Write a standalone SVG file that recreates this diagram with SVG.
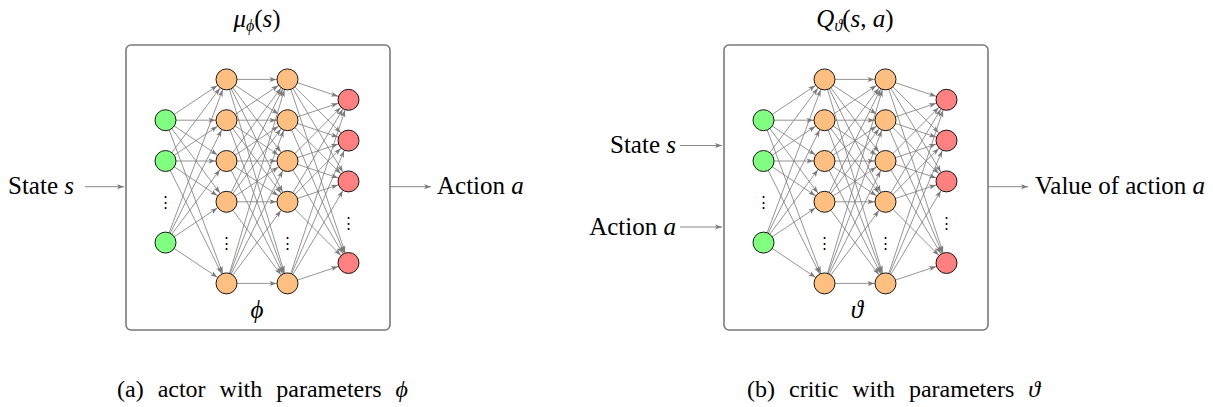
<svg xmlns="http://www.w3.org/2000/svg" width="1213" height="407" viewBox="0 0 1213 407">
<style>
.e{stroke:#7a7a7a;stroke-width:0.8;fill:none;marker-end:url(#ah)}
.x{stroke:#7a7a7a;stroke-width:0.9;fill:none;marker-end:url(#ax)}
.box{fill:#fff;stroke:#7a7a7a;stroke-width:1.6}
.g{fill:#80ff80;stroke:#000;stroke-width:0.9}
.h{fill:#ffbf80;stroke:#000;stroke-width:0.9}
.o{fill:#ff8080;stroke:#000;stroke-width:0.9}
.t{font-size:25px;fill:#000}
.cap{font-size:24px;fill:#000;word-spacing:8px}
.i{font-style:italic}
.d{font-size:15px;fill:#000;text-anchor:middle}
</style>
<defs>
<marker id="ah" viewBox="0 0 7 5" refX="18" refY="2.5" markerWidth="7" markerHeight="5" markerUnits="userSpaceOnUse" orient="auto" overflow="visible"><path d="M0,0 L7,2.5 L0,5 L1.8,2.5 Z" fill="#7a7a7a"/></marker>
<marker id="ax" viewBox="0 0 7 5" refX="7" refY="2.5" markerWidth="7" markerHeight="5" markerUnits="userSpaceOnUse" orient="auto" overflow="visible"><path d="M0,0 L7,2.5 L0,5 L1.8,2.5 Z" fill="#7a7a7a"/></marker>
</defs>
<rect width="1213" height="407" fill="#fff"/>

<g id="actor-box"><rect class="box" x="126" y="45" width="264" height="285" rx="5"/></g>
<g id="critic-box"><rect class="box" x="724" y="45" width="264" height="285" rx="5"/></g>

<g id="connectors">
<line class="e" x1="165.5" y1="120.2" x2="226.5" y2="79.4"/><line class="e" x1="165.5" y1="120.2" x2="226.5" y2="120.2"/><line class="e" x1="165.5" y1="120.2" x2="226.5" y2="161"/><line class="e" x1="165.5" y1="120.2" x2="226.5" y2="201.8"/><line class="e" x1="165.5" y1="120.2" x2="226.5" y2="283.4"/>
<line class="e" x1="165.5" y1="161" x2="226.5" y2="79.4"/><line class="e" x1="165.5" y1="161" x2="226.5" y2="120.2"/><line class="e" x1="165.5" y1="161" x2="226.5" y2="161"/><line class="e" x1="165.5" y1="161" x2="226.5" y2="201.8"/><line class="e" x1="165.5" y1="161" x2="226.5" y2="283.4"/>
<line class="e" x1="165.5" y1="242.6" x2="226.5" y2="79.4"/><line class="e" x1="165.5" y1="242.6" x2="226.5" y2="120.2"/><line class="e" x1="165.5" y1="242.6" x2="226.5" y2="161"/><line class="e" x1="165.5" y1="242.6" x2="226.5" y2="201.8"/><line class="e" x1="165.5" y1="242.6" x2="226.5" y2="283.4"/>
<line class="e" x1="226.5" y1="79.4" x2="287.5" y2="79.4"/><line class="e" x1="226.5" y1="79.4" x2="287.5" y2="120.2"/><line class="e" x1="226.5" y1="79.4" x2="287.5" y2="161"/><line class="e" x1="226.5" y1="79.4" x2="287.5" y2="201.8"/><line class="e" x1="226.5" y1="79.4" x2="287.5" y2="283.4"/>
<line class="e" x1="226.5" y1="120.2" x2="287.5" y2="79.4"/><line class="e" x1="226.5" y1="120.2" x2="287.5" y2="120.2"/><line class="e" x1="226.5" y1="120.2" x2="287.5" y2="161"/><line class="e" x1="226.5" y1="120.2" x2="287.5" y2="201.8"/><line class="e" x1="226.5" y1="120.2" x2="287.5" y2="283.4"/>
<line class="e" x1="226.5" y1="161" x2="287.5" y2="79.4"/><line class="e" x1="226.5" y1="161" x2="287.5" y2="120.2"/><line class="e" x1="226.5" y1="161" x2="287.5" y2="161"/><line class="e" x1="226.5" y1="161" x2="287.5" y2="201.8"/><line class="e" x1="226.5" y1="161" x2="287.5" y2="283.4"/>
<line class="e" x1="226.5" y1="201.8" x2="287.5" y2="79.4"/><line class="e" x1="226.5" y1="201.8" x2="287.5" y2="120.2"/><line class="e" x1="226.5" y1="201.8" x2="287.5" y2="161"/><line class="e" x1="226.5" y1="201.8" x2="287.5" y2="201.8"/><line class="e" x1="226.5" y1="201.8" x2="287.5" y2="283.4"/>
<line class="e" x1="226.5" y1="283.4" x2="287.5" y2="79.4"/><line class="e" x1="226.5" y1="283.4" x2="287.5" y2="120.2"/><line class="e" x1="226.5" y1="283.4" x2="287.5" y2="161"/><line class="e" x1="226.5" y1="283.4" x2="287.5" y2="201.8"/><line class="e" x1="226.5" y1="283.4" x2="287.5" y2="283.4"/>
<line class="e" x1="287.5" y1="79.4" x2="348.5" y2="99.8"/><line class="e" x1="287.5" y1="79.4" x2="348.5" y2="140.6"/><line class="e" x1="287.5" y1="79.4" x2="348.5" y2="181.4"/><line class="e" x1="287.5" y1="79.4" x2="348.5" y2="263"/>
<line class="e" x1="287.5" y1="120.2" x2="348.5" y2="99.8"/><line class="e" x1="287.5" y1="120.2" x2="348.5" y2="140.6"/><line class="e" x1="287.5" y1="120.2" x2="348.5" y2="181.4"/><line class="e" x1="287.5" y1="120.2" x2="348.5" y2="263"/>
<line class="e" x1="287.5" y1="161" x2="348.5" y2="99.8"/><line class="e" x1="287.5" y1="161" x2="348.5" y2="140.6"/><line class="e" x1="287.5" y1="161" x2="348.5" y2="181.4"/><line class="e" x1="287.5" y1="161" x2="348.5" y2="263"/>
<line class="e" x1="287.5" y1="201.8" x2="348.5" y2="99.8"/><line class="e" x1="287.5" y1="201.8" x2="348.5" y2="140.6"/><line class="e" x1="287.5" y1="201.8" x2="348.5" y2="181.4"/><line class="e" x1="287.5" y1="201.8" x2="348.5" y2="263"/>
<line class="e" x1="287.5" y1="283.4" x2="348.5" y2="99.8"/><line class="e" x1="287.5" y1="283.4" x2="348.5" y2="140.6"/><line class="e" x1="287.5" y1="283.4" x2="348.5" y2="181.4"/><line class="e" x1="287.5" y1="283.4" x2="348.5" y2="263"/>
<line class="e" x1="763.5" y1="120.2" x2="824.5" y2="79.4"/><line class="e" x1="763.5" y1="120.2" x2="824.5" y2="120.2"/><line class="e" x1="763.5" y1="120.2" x2="824.5" y2="161"/><line class="e" x1="763.5" y1="120.2" x2="824.5" y2="201.8"/><line class="e" x1="763.5" y1="120.2" x2="824.5" y2="283.4"/>
<line class="e" x1="763.5" y1="161" x2="824.5" y2="79.4"/><line class="e" x1="763.5" y1="161" x2="824.5" y2="120.2"/><line class="e" x1="763.5" y1="161" x2="824.5" y2="161"/><line class="e" x1="763.5" y1="161" x2="824.5" y2="201.8"/><line class="e" x1="763.5" y1="161" x2="824.5" y2="283.4"/>
<line class="e" x1="763.5" y1="242.6" x2="824.5" y2="79.4"/><line class="e" x1="763.5" y1="242.6" x2="824.5" y2="120.2"/><line class="e" x1="763.5" y1="242.6" x2="824.5" y2="161"/><line class="e" x1="763.5" y1="242.6" x2="824.5" y2="201.8"/><line class="e" x1="763.5" y1="242.6" x2="824.5" y2="283.4"/>
<line class="e" x1="824.5" y1="79.4" x2="885.5" y2="79.4"/><line class="e" x1="824.5" y1="79.4" x2="885.5" y2="120.2"/><line class="e" x1="824.5" y1="79.4" x2="885.5" y2="161"/><line class="e" x1="824.5" y1="79.4" x2="885.5" y2="201.8"/><line class="e" x1="824.5" y1="79.4" x2="885.5" y2="283.4"/>
<line class="e" x1="824.5" y1="120.2" x2="885.5" y2="79.4"/><line class="e" x1="824.5" y1="120.2" x2="885.5" y2="120.2"/><line class="e" x1="824.5" y1="120.2" x2="885.5" y2="161"/><line class="e" x1="824.5" y1="120.2" x2="885.5" y2="201.8"/><line class="e" x1="824.5" y1="120.2" x2="885.5" y2="283.4"/>
<line class="e" x1="824.5" y1="161" x2="885.5" y2="79.4"/><line class="e" x1="824.5" y1="161" x2="885.5" y2="120.2"/><line class="e" x1="824.5" y1="161" x2="885.5" y2="161"/><line class="e" x1="824.5" y1="161" x2="885.5" y2="201.8"/><line class="e" x1="824.5" y1="161" x2="885.5" y2="283.4"/>
<line class="e" x1="824.5" y1="201.8" x2="885.5" y2="79.4"/><line class="e" x1="824.5" y1="201.8" x2="885.5" y2="120.2"/><line class="e" x1="824.5" y1="201.8" x2="885.5" y2="161"/><line class="e" x1="824.5" y1="201.8" x2="885.5" y2="201.8"/><line class="e" x1="824.5" y1="201.8" x2="885.5" y2="283.4"/>
<line class="e" x1="824.5" y1="283.4" x2="885.5" y2="79.4"/><line class="e" x1="824.5" y1="283.4" x2="885.5" y2="120.2"/><line class="e" x1="824.5" y1="283.4" x2="885.5" y2="161"/><line class="e" x1="824.5" y1="283.4" x2="885.5" y2="201.8"/><line class="e" x1="824.5" y1="283.4" x2="885.5" y2="283.4"/>
<line class="e" x1="885.5" y1="79.4" x2="946.5" y2="99.8"/><line class="e" x1="885.5" y1="79.4" x2="946.5" y2="140.6"/><line class="e" x1="885.5" y1="79.4" x2="946.5" y2="181.4"/><line class="e" x1="885.5" y1="79.4" x2="946.5" y2="263"/>
<line class="e" x1="885.5" y1="120.2" x2="946.5" y2="99.8"/><line class="e" x1="885.5" y1="120.2" x2="946.5" y2="140.6"/><line class="e" x1="885.5" y1="120.2" x2="946.5" y2="181.4"/><line class="e" x1="885.5" y1="120.2" x2="946.5" y2="263"/>
<line class="e" x1="885.5" y1="161" x2="946.5" y2="99.8"/><line class="e" x1="885.5" y1="161" x2="946.5" y2="140.6"/><line class="e" x1="885.5" y1="161" x2="946.5" y2="181.4"/><line class="e" x1="885.5" y1="161" x2="946.5" y2="263"/>
<line class="e" x1="885.5" y1="201.8" x2="946.5" y2="99.8"/><line class="e" x1="885.5" y1="201.8" x2="946.5" y2="140.6"/><line class="e" x1="885.5" y1="201.8" x2="946.5" y2="181.4"/><line class="e" x1="885.5" y1="201.8" x2="946.5" y2="263"/>
<line class="e" x1="885.5" y1="283.4" x2="946.5" y2="99.8"/><line class="e" x1="885.5" y1="283.4" x2="946.5" y2="140.6"/><line class="e" x1="885.5" y1="283.4" x2="946.5" y2="181.4"/><line class="e" x1="885.5" y1="283.4" x2="946.5" y2="263"/>
<line class="x" x1="85" y1="186.7" x2="124" y2="186.7"/>
<line class="x" x1="390" y1="186.7" x2="431" y2="186.7"/>
<line class="x" x1="680" y1="145.5" x2="722" y2="145.5"/>
<line class="x" x1="680" y1="227" x2="722" y2="227"/>
<line class="x" x1="988" y1="186.7" x2="1028" y2="186.7"/>
</g>

<g id="actor-in1"><circle class="g" cx="165.5" cy="120.2" r="10.5"/></g>
<g id="actor-in2"><circle class="g" cx="165.5" cy="161" r="10.5"/></g>
<g id="actor-in3"><circle class="g" cx="165.5" cy="242.6" r="10.5"/></g>
<g id="actor-h1-1"><circle class="h" cx="226.5" cy="79.4" r="10.5"/></g>
<g id="actor-h1-2"><circle class="h" cx="226.5" cy="120.2" r="10.5"/></g>
<g id="actor-h1-3"><circle class="h" cx="226.5" cy="161" r="10.5"/></g>
<g id="actor-h1-4"><circle class="h" cx="226.5" cy="201.8" r="10.5"/></g>
<g id="actor-h1-5"><circle class="h" cx="226.5" cy="283.4" r="10.5"/></g>
<g id="actor-h2-1"><circle class="h" cx="287.5" cy="79.4" r="10.5"/></g>
<g id="actor-h2-2"><circle class="h" cx="287.5" cy="120.2" r="10.5"/></g>
<g id="actor-h2-3"><circle class="h" cx="287.5" cy="161" r="10.5"/></g>
<g id="actor-h2-4"><circle class="h" cx="287.5" cy="201.8" r="10.5"/></g>
<g id="actor-h2-5"><circle class="h" cx="287.5" cy="283.4" r="10.5"/></g>
<g id="actor-out1"><circle class="o" cx="348.5" cy="99.8" r="10.5"/></g>
<g id="actor-out2"><circle class="o" cx="348.5" cy="140.6" r="10.5"/></g>
<g id="actor-out3"><circle class="o" cx="348.5" cy="181.4" r="10.5"/></g>
<g id="actor-out4"><circle class="o" cx="348.5" cy="263" r="10.5"/></g>
<g id="actor-dots" font-family="'DejaVu Serif', serif">
<text class="d" x="165.5" y="207">⋮</text><text class="d" x="226.5" y="248">⋮</text><text class="d" x="287.5" y="248">⋮</text><text class="d" x="348.5" y="227.5">⋮</text>
</g>

<g id="critic-in1"><circle class="g" cx="763.5" cy="120.2" r="10.5"/></g>
<g id="critic-in2"><circle class="g" cx="763.5" cy="161" r="10.5"/></g>
<g id="critic-in3"><circle class="g" cx="763.5" cy="242.6" r="10.5"/></g>
<g id="critic-h1-1"><circle class="h" cx="824.5" cy="79.4" r="10.5"/></g>
<g id="critic-h1-2"><circle class="h" cx="824.5" cy="120.2" r="10.5"/></g>
<g id="critic-h1-3"><circle class="h" cx="824.5" cy="161" r="10.5"/></g>
<g id="critic-h1-4"><circle class="h" cx="824.5" cy="201.8" r="10.5"/></g>
<g id="critic-h1-5"><circle class="h" cx="824.5" cy="283.4" r="10.5"/></g>
<g id="critic-h2-1"><circle class="h" cx="885.5" cy="79.4" r="10.5"/></g>
<g id="critic-h2-2"><circle class="h" cx="885.5" cy="120.2" r="10.5"/></g>
<g id="critic-h2-3"><circle class="h" cx="885.5" cy="161" r="10.5"/></g>
<g id="critic-h2-4"><circle class="h" cx="885.5" cy="201.8" r="10.5"/></g>
<g id="critic-h2-5"><circle class="h" cx="885.5" cy="283.4" r="10.5"/></g>
<g id="critic-out1"><circle class="o" cx="946.5" cy="99.8" r="10.5"/></g>
<g id="critic-out2"><circle class="o" cx="946.5" cy="140.6" r="10.5"/></g>
<g id="critic-out3"><circle class="o" cx="946.5" cy="181.4" r="10.5"/></g>
<g id="critic-out4"><circle class="o" cx="946.5" cy="263" r="10.5"/></g>
<g id="critic-dots" font-family="'DejaVu Serif', serif">
<text class="d" x="763.5" y="207">⋮</text><text class="d" x="824.5" y="248">⋮</text><text class="d" x="885.5" y="248">⋮</text><text class="d" x="946.5" y="227.5">⋮</text>
</g>

<g id="labels" font-family="'Liberation Serif', 'Times New Roman', 'DejaVu Serif', serif">
<text class="t" x="257" y="27" text-anchor="middle"><tspan class="i">μ</tspan><tspan class="i" font-size="16" dy="4">ϕ</tspan><tspan dy="-4">(</tspan><tspan class="i">s</tspan>)</text>
<text class="t" x="257" y="318" text-anchor="middle"><tspan class="i">ϕ</tspan></text>
<text class="t" x="8" y="194">State <tspan class="i">s</tspan></text>
<text class="t" x="437" y="194">Action <tspan class="i">a</tspan></text>
<text class="t" x="855" y="27" text-anchor="middle"><tspan class="i">Q</tspan><tspan class="i" font-size="16" dy="4">ϑ</tspan><tspan dy="-4">(</tspan><tspan class="i">s</tspan>, <tspan class="i">a</tspan>)</text>
<text class="t" x="857" y="318" text-anchor="middle"><tspan class="i">ϑ</tspan></text>
<text class="t" x="676" y="153" text-anchor="end">State <tspan class="i">s</tspan></text>
<text class="t" x="676" y="234.5" text-anchor="end">Action <tspan class="i">a</tspan></text>
<text class="t" x="1035" y="194">Value of action <tspan class="i">a</tspan></text>
<text class="cap" x="117" y="397">(a) actor with parameters <tspan class="i">ϕ</tspan></text>
<text class="cap" x="747" y="397">(b) critic with parameters <tspan class="i">ϑ</tspan></text>
</g>
</svg>
